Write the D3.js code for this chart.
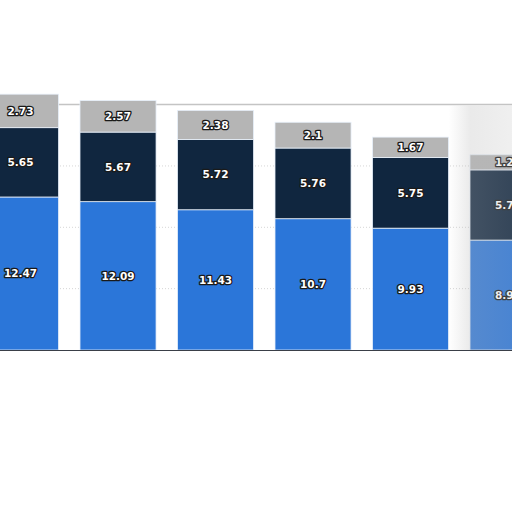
<!DOCTYPE html>
<html>
<head>
<meta charset="utf-8">
<script src="https://cdn.jsdelivr.net/npm/d3@7"></script>
<style>
  html, body { margin: 0; padding: 0; background: #fff; }
  #chart { width: 512px; height: 512px; overflow: hidden; }
  .lbl { font-family: "DejaVu Sans", sans-serif; font-weight: bold; font-size: 10.5px;
         fill: #fff; stroke: #1a1a1a; stroke-width: 2.6px; paint-order: stroke; stroke-linejoin: round; }
</style>
</head>
<body>
<div id="chart"></div>
<script>
// Stacked bars, values (category names are cut off in the picture)
const categories = ['c1', 'c2', 'c3', 'c4', 'c5', 'c6'];
const seriesKeys = ['bottom', 'middle', 'top'];
const bottomValues = [12.47, 12.09, 11.43, 10.7, 9.93, 8.96];
const middleValues = [5.65, 5.67, 5.72, 5.76, 5.75, 5.72];
const topValues    = [2.73, 2.57, 2.38, 2.1, 1.67, 1.23];
const gridTicks = [5, 10, 15, 20];
const colors = { bottom: '#2b76d9', middle: '#10263f', top: '#b5b5b5' };

const W = 512, H = 512;
const svg = d3.select('#chart').append('svg')
  .attr('width', W)
  .attr('height', H);

const rows = categories.map((c, i) => ({
  cat: c, bottom: bottomValues[i], middle: middleValues[i], top: topValues[i]
}));

// band step ~97.5px, first bar partly off the left edge
const step = 97.5, inner = 0.22;
const x = d3.scaleBand()
  .domain(categories)
  .range([-17.5, -17.5 + step * (categories.length - inner)])
  .paddingInner(inner)
  .paddingOuter(0);

const y = d3.scaleLinear()
  .domain([0, 20])
  .range([350, 104.6]);

// gridlines
svg.append('g')
  .selectAll('line')
  .data(gridTicks)
  .join('line')
    .attr('x1', 0)
    .attr('x2', W)
    .attr('y1', d => y(d))
    .attr('y2', d => y(d))
    .attr('stroke', d => d === 20 ? '#c4c4c4' : '#d6d6d6')
    .attr('stroke-width', d => d === 20 ? 1.5 : 1)
    .attr('stroke-dasharray', d => d === 20 ? null : '1,2');

const stacked = d3.stack().keys(seriesKeys)(rows);

const layers = svg.append('g')
  .selectAll('g')
  .data(stacked)
  .join('g')
    .attr('fill', d => colors[d.key]);

layers.selectAll('rect')
  .data(d => d)
  .join('rect')
    .attr('x', d => x(d.data.cat))
    .attr('y', d => y(d[1]))
    .attr('width', x.bandwidth())
    .attr('height', d => y(d[0]) - y(d[1]))
    .attr('stroke', '#e8f0fa')
    .attr('stroke-width', 0.8);

// value labels
layers.selectAll('text')
  .data(d => d.map(v => ({ v, key: d.key })))
  .join('text')
    .attr('class', 'lbl')
    .attr('x', d => x(d.v.data.cat) + x.bandwidth() / 2)
    .attr('y', d => (y(d.v[0]) + y(d.v[1])) / 2)
    .attr('dy', '0.35em')
    .attr('text-anchor', 'middle')
    .text(d => d.v.data[d.key]);

// baseline
svg.append('line')
  .attr('x1', 0).attr('x2', W)
  .attr('y1', y(0) + 0.5).attr('y2', y(0) + 0.5)
  .attr('stroke', '#3a3f48')
  .attr('stroke-width', 1.2);

// grey haze on the right edge of the frame
const defs = svg.append('defs');
const grad = defs.append('linearGradient').attr('id', 'haze')
  .attr('x1', '0').attr('x2', '1').attr('y1', '0').attr('y2', '0');
grad.append('stop').attr('offset', '0').attr('stop-color', '#b8b8b8').attr('stop-opacity', 0);
grad.append('stop').attr('offset', '0.35').attr('stop-color', '#b8b8b8').attr('stop-opacity', 0.3);
grad.append('stop').attr('offset', '1').attr('stop-color', '#b8b8b8').attr('stop-opacity', 0.22);
svg.append('rect')
  .attr('x', x('c5') + x.bandwidth()).attr('y', y(20) + 1)
  .attr('width', W - x('c5') - x.bandwidth()).attr('height', y(0) - y(20) - 1)
  .attr('fill', 'url(#haze)');
</script>
</body>
</html>
